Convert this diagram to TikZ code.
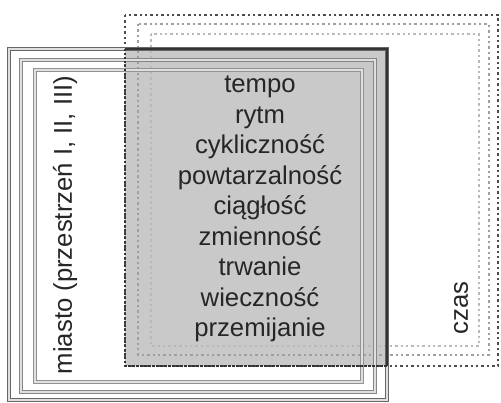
\documentclass[tikz,border=0pt]{standalone}
\usepackage{fontspec}
\setmainfont{Liberation Sans}
\tikzset{
    miastoline/.style={draw=#1, line width=1.4pt, double=gray!25, double distance=1.1pt},
    czasline/.style={draw=#1, line width=2.4pt, dash pattern=on 2.4pt off 3pt},
    pojecie/.style={anchor=base, inner sep=0pt, font=\fontsize{25.7}{30.8}\selectfont, text=black!85}
}

\begin{document}
\begin{tikzpicture}[x=1pt, y=-1pt]
        \useasboundingbox[fill=white] (0,0) rectangle (501,403);
        % wspolna czesc
        \fill[gray!42] (125,49) rectangle (387,366);
        % czas
        \draw[czasline=gray!55] (151,34) rectangle (479,346);
        \draw[czasline=gray!75] (138,24) rectangle (489,355);
        \draw[czasline=black!70] (125,15) rectangle (498,366);
        % miasto
        \draw[miastoline=gray!85] (35,70) rectangle (362,382);
        \draw[miastoline=gray!95] (21,60) rectangle (375,392);
        \draw[miastoline=black!60] (9,49) rectangle (387,400);
        \draw[black!80, line width=1.3pt] (125,49) -- (387,49) -- (387,366);
        \draw[black!80, line width=1.3pt, dash pattern=on 2.5pt off 1.5pt] (125,49) -- (125,366) -- (387,366);
        \foreach \word [count=\i] in {tempo, rytm, cykliczność, powtarzalność, ciągłość, zmienność, trwanie, wieczność, przemijanie}
            \node[pojecie] (p\i) at (260,{93+30.5*(\i-1)}) {\word};
        \node[pojecie, anchor=center, rotate=90] (miasto) at (65,225) {miasto (przestrzeń I, II, III)};
        \node[pojecie, anchor=center, rotate=90] (czas) at (461,308) {czas};
    \end{tikzpicture}
\end{document}
